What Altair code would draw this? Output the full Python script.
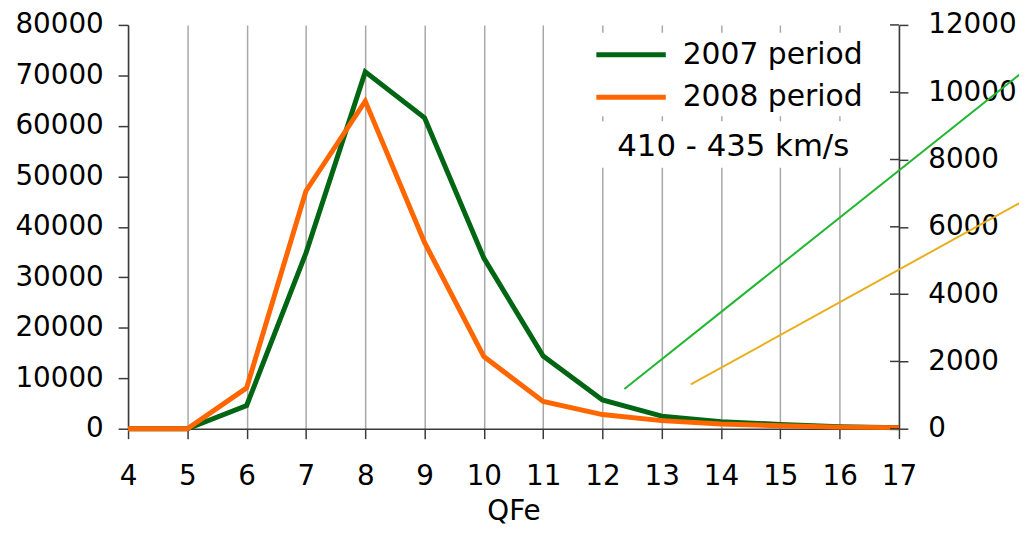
import altair as alt
import pandas as pd

# ---- data ----
qfe = list(range(4, 18))
v2007 = [0, 0, 4600, 34800, 70700, 61600, 33800, 14400, 5700, 2500, 1400, 850, 400, 200]
v2008 = [0, 0, 8100, 47100, 64900, 36900, 14300, 5400, 2800, 1600, 950, 600, 320, 220]
series_names = ["2007 period", "2008 period"]
series_colors = ["#006614", "#ff6600"]

# thin guide lines on the secondary axis (QFe, right-axis value)
guide_green_x = [12.37, 19.1]
guide_green_y = [1180, 10620]
guide_gold_x = [13.49, 19.1]
guide_gold_y = [1318, 6770]

left_ticks = list(range(0, 80001, 10000))
right_ticks = list(range(0, 12001, 2000))
annotation = ["410 - 435 km/s"]

FONT = "DejaVu Sans"
FS = 28
W, H = 777, 407
AXC = "#3a3a3a"

df = pd.DataFrame({
    "QFe": qfe + qfe,
    "value": v2007 + v2008,
    "series": [series_names[0]] * len(qfe) + [series_names[1]] * len(qfe),
})
guide_df = pd.DataFrame({
    "QFe": guide_green_x + guide_gold_x,
    "right": guide_green_y + guide_gold_y,
    "guide": ["green", "green", "gold", "gold"],
})
rt_df = pd.DataFrame({"t": right_ticks})
ann_df = pd.DataFrame({"label": annotation})
leg_df = pd.DataFrame({"series": series_names})

color_scale = alt.Scale(domain=series_names, range=series_colors)
leg_scale = alt.Scale(type="point", domain=series_names, range=[30, 73], padding=0)

xscale = alt.Scale(domain=[4, 17], nice=False, zero=False)
xaxis = alt.Axis(values=qfe, title="QFe", grid=True, gridColor="#a8a8a8", gridWidth=1.5,
                 tickSize=10, labelPadding=24, titlePadding=8, format="d", labelFlush=False)
lscale = alt.Scale(domain=[0, 80000], nice=False)
laxis = alt.Axis(values=left_ticks, title=None, grid=False, tickSize=10, labelPadding=15, format="d")
rscale = alt.Scale(domain=[0, 12000], nice=False)
raxis = alt.Axis(orient="right", values=right_ticks, title=None, grid=False, tickSize=9,
                 labelPadding=20, format="d")

main = alt.Chart(df).mark_line(strokeWidth=5, clip=False).encode(
    x=alt.X("QFe:Q", scale=xscale, axis=xaxis),
    y=alt.Y("value:Q", scale=lscale, axis=laxis),
    color=alt.Color("series:N", scale=color_scale, legend=None),
)

green_line = alt.Chart(guide_df).transform_filter(alt.datum.guide == "green").mark_line(
    color="#22b532", strokeWidth=2, clip=False
).encode(
    x=alt.X("QFe:Q", scale=xscale, axis=xaxis),
    y=alt.Y("right:Q", scale=rscale, axis=raxis),
)
gold_line = alt.Chart(guide_df).transform_filter(alt.datum.guide == "gold").mark_line(
    color="#e8b020", strokeWidth=2, clip=False
).encode(
    x=alt.X("QFe:Q", scale=xscale, axis=xaxis),
    y=alt.Y("right:Q", scale=rscale, axis=raxis),
)
rticks = alt.Chart(rt_df).mark_rule(color=AXC, strokeWidth=1.5).encode(
    y=alt.Y("t:Q", scale=rscale, axis=raxis),
    x=alt.value(W - 9),
    x2=alt.value(W),
)

# white boxes behind legend and annotation (hide grid lines like the original)
legend_bg = alt.Chart(ann_df).mark_rect(color="white").encode(
    x=alt.value(461), x2=alt.value(741), y=alt.value(8), y2=alt.value(92)
)
ann_bg = alt.Chart(ann_df).mark_rect(color="white").encode(
    x=alt.value(471), x2=alt.value(741), y=alt.value(97), y2=alt.value(144)
)
ann_text = alt.Chart(ann_df).mark_text(font=FONT, fontSize=31, color="black",
                                       align="center", baseline="middle").encode(
    text="label:N", x=alt.value(610), y=alt.value(123)
)

# legend
leg_sym = alt.Chart(leg_df).mark_rule(strokeWidth=5).encode(
    y=alt.Y("series:N", scale=leg_scale, axis=None),
    x=alt.value(472), x2=alt.value(542),
    color=alt.Color("series:N", scale=color_scale, legend=None),
)
leg_txt = alt.Chart(leg_df).mark_text(font=FONT, fontSize=30, color="black",
                                      align="left", baseline="middle").encode(
    y=alt.Y("series:N", scale=leg_scale, axis=None),
    x=alt.value(559),
    text="series:N",
)

right_layer = alt.layer(green_line, gold_line, rticks)

chart = alt.layer(main, right_layer, legend_bg, ann_bg, ann_text, leg_sym, leg_txt).resolve_scale(
    y="independent"
).properties(
    width=W, height=H,
    autosize=alt.AutoSizeParams(type="none"),
    padding={"left": 121, "top": 15, "right": 121, "bottom": 97},
).configure_view(stroke=None).configure_axis(
    labelFont=FONT, titleFont=FONT, labelFontSize=FS, titleFontSize=FS,
    labelColor="black", titleColor="black", titleFontWeight="normal",
    domainColor=AXC, tickColor=AXC, domainWidth=1.5, tickWidth=1.5,
)

chart.save("out.html", embed_options={"renderer": "svg", "actions": False})
